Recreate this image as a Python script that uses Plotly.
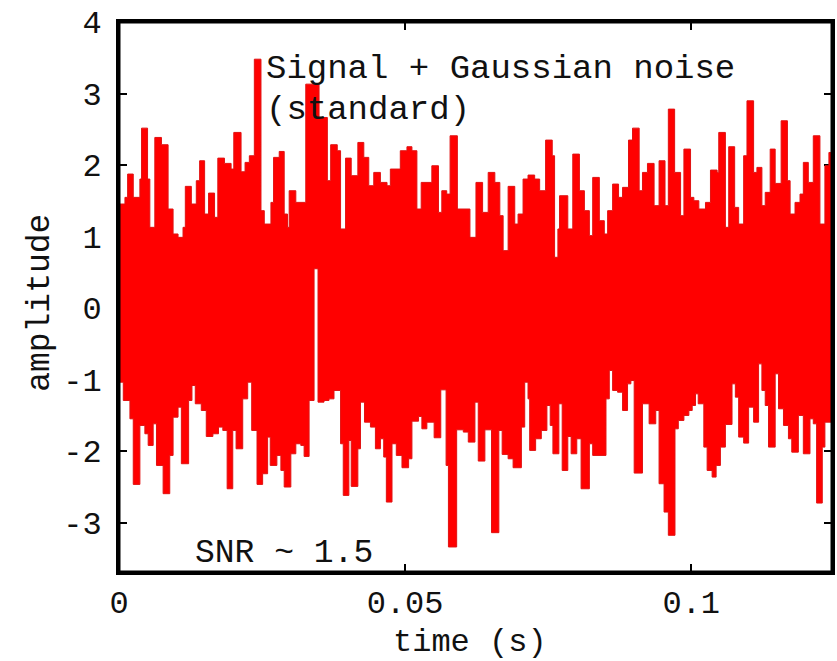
import plotly.graph_objects as go

# ---- data ----
t_end = 0.1246

upper_t = [0, 0.00104, 0.00151, 0.00249, 0.00365, 0.00394, 0.00499, 0.00539, 0.00626, 0.00742,
           0.00858, 0.00945, 0.01032, 0.01119, 0.01159, 0.01264, 0.01351, 0.01409, 0.01496, 0.01565,
           0.01670, 0.01727, 0.01843, 0.01959, 0.02006, 0.02133, 0.02203, 0.02278, 0.02365, 0.02481,
           0.02539, 0.02655, 0.02701, 0.02800, 0.02887, 0.02945, 0.02974, 0.03090, 0.03264, 0.03496,
           0.03641, 0.03699, 0.03814, 0.03872, 0.03959, 0.04058,
           0.04174, 0.04278, 0.04365, 0.04452, 0.04568, 0.04684, 0.04742, 0.04916, 0.05032, 0.05119,
           0.05206, 0.05281, 0.05467, 0.05583, 0.05641, 0.05727, 0.05786, 0.05913, 0.06133, 0.06238,
           0.06354, 0.06452, 0.06568, 0.06655, 0.06713, 0.06800, 0.06916, 0.06974, 0.07061, 0.07148,
           0.07264, 0.07351, 0.07455, 0.07571, 0.07612, 0.07670, 0.07699, 0.07843, 0.07930, 0.08046,
           0.08133, 0.08220, 0.08278,
           0.08394, 0.08481, 0.08539, 0.08626, 0.08730, 0.08800, 0.08904, 0.08974, 0.09090, 0.09148,
           0.09235, 0.09351, 0.09438, 0.09542, 0.09600, 0.09710, 0.09814, 0.09872, 0.09988, 0.10046,
           0.10133, 0.10249, 0.10336, 0.10452, 0.10481, 0.10597, 0.10655, 0.10759, 0.10829, 0.10916,
           0.10974, 0.11090, 0.11148, 0.11235, 0.11293, 0.11380, 0.11467, 0.11571, 0.11681, 0.11728,
           0.11814, 0.11901, 0.11959, 0.12046, 0.12133, 0.12249, 0.12336, 0.12406]
upper_v = [1.455, 1.548, 1.874, 1.548, 1.804, 2.516, 1.804, 1.129, 2.386, 2.284,
           1.385, 1.036, 0.989, 1.129, 1.702, 1.455, 1.781, 2.060, 1.315, 1.608,
           1.269, 2.097, 2.023, 1.944, 2.456, 1.906, 2.037, 2.130, 3.480, 1.362,
           1.175, 1.478, 2.107, 2.190, 1.315, 1.129, 1.641, 1.478, 3.131, 2.665,
           1.781, 2.284, 2.200, 1.106, 2.097, 1.851,
           2.316, 2.107, 1.711, 1.897, 1.757, 1.711, 1.944, 2.200, 2.256, 2.200,
           1.385, 1.757, 1.990, 1.338, 1.641, 1.594, 2.409, 1.385, 0.989, 1.757,
           1.338, 1.897, 1.757, 1.292, 0.803, 1.702, 1.175, 1.315, 1.804, 1.860,
           1.804, 1.641, 2.349, 2.130, 0.710, 1.106, 1.571, 1.106, 2.153, 1.641,
           1.362, 1.013, 1.827,
           1.222, 1.036, 1.362, 1.734, 1.548, 1.688, 2.349, 2.516, 1.641, 1.897,
           2.023, 1.432, 2.060, 1.432, 2.782, 1.897, 1.292, 2.223, 1.548, 1.501,
           1.385, 1.478, 1.930, 1.897, 2.456, 1.129, 2.256, 1.408, 1.175, 2.130,
           2.898, 1.897, 1.967, 1.432, 1.618, 2.223, 1.743, 2.619, 1.781, 1.315,
           1.478, 1.594, 2.037, 1.757, 2.409, 1.175, 1.990, 2.176]

lower_t = [0, 0.00075, 0.00191, 0.00249, 0.00365, 0.00452, 0.00510, 0.00597, 0.00655, 0.00771,
           0.00887, 0.00945, 0.01032, 0.01090, 0.01217, 0.01275, 0.01333, 0.01438, 0.01525, 0.01641,
           0.01739, 0.01814, 0.01890, 0.01988, 0.02046, 0.02162, 0.02249, 0.02319, 0.02412, 0.02510,
           0.02597, 0.02643, 0.02759, 0.02829, 0.02887, 0.03003, 0.03090, 0.03177, 0.03235, 0.03322,
           0.03409, 0.03478, 0.03583, 0.03670, 0.03757, 0.03872, 0.03919, 0.04017, 0.04058,
           0.04174, 0.04220, 0.04290, 0.04394, 0.04481, 0.04568, 0.04626, 0.04672, 0.04771, 0.04846,
           0.04945, 0.05061, 0.05119, 0.05235, 0.05293, 0.05380, 0.05507, 0.05623, 0.05716, 0.05757,
           0.05901, 0.06017, 0.06104, 0.06220, 0.06278, 0.06394, 0.06510, 0.06638, 0.06696, 0.06800,
           0.06887, 0.07032, 0.07090, 0.07148, 0.07177, 0.07281, 0.07380, 0.07478, 0.07536, 0.07583,
           0.07687, 0.07745, 0.07843, 0.07901, 0.08000, 0.08075, 0.08220, 0.08278,
           0.08510, 0.08568, 0.08626, 0.08713, 0.08800, 0.08887, 0.08945, 0.09003, 0.09148, 0.09264,
           0.09380, 0.09438, 0.09525, 0.09600, 0.09716, 0.09774, 0.09872, 0.09959, 0.10017, 0.10075,
           0.10122, 0.10220, 0.10278, 0.10365, 0.10435, 0.10510, 0.10597, 0.10713, 0.10771, 0.10829,
           0.10916, 0.11003, 0.11090, 0.11177, 0.11235, 0.11293, 0.11351, 0.11467, 0.11525, 0.11612,
           0.11699, 0.11757, 0.11872, 0.11959, 0.12075, 0.12133, 0.12191, 0.12290, 0.12336]
lower_v = [-1.036, -1.292, -1.548, -2.465, -1.641, -1.757, -1.920, -1.618, -2.200, -2.595,
           -2.060, -1.525, -1.385, -2.176, -1.292, -1.082, -1.338, -1.432, -1.795, -1.757,
           -1.664, -1.711, -2.526, -1.711, -1.967, -1.269, -1.036, -1.711, -2.465, -2.316,
           -1.804, -2.200, -2.060, -2.270, -2.502, -2.037, -1.897, -1.920, -2.074, -1.292,
           0.550, -1.315, -1.292, -1.269, -1.152, -1.897, -2.619, -1.851, -2.493,
           -1.967, -1.315, -1.595, -1.664, -1.967, -1.827, -2.083, -2.712, -1.897, -2.060,
           -2.232, -2.107, -1.581, -1.515, -1.688, -1.595, -1.813, -1.143, -2.200, -3.340,
           -1.702, -1.734, -1.874, -1.315, -2.139, -1.702, -3.140, -1.711, -2.046, -2.107,
           -2.232, -1.664, -1.036, -1.269, -1.990, -1.827, -1.711, -1.362, -1.641, -2.037,
           -1.338, -2.270, -1.795, -2.037, -1.827, -2.526, -1.897, -2.060,
           -1.269, -0.873, -1.152, -1.176, -1.432, -1.059, -1.013, -2.307, -1.338, -1.618,
           -1.432, -2.456, -2.852, -3.177, -1.688, -1.571, -1.501, -1.432, -1.362, -1.199,
           -1.338, -1.944, -2.270, -2.363, -2.200, -1.944, -1.627, -1.059, -1.245, -1.804,
           -1.888, -1.385, -1.595, -0.780, -1.152, -1.362, -1.944, -0.919, -1.408, -1.641,
           -1.827, -2.014, -1.501, -2.037, -1.548, -1.618, -2.726, -1.944, -1.595]

x_ticks = [0, 0.05, 0.1]
x_ticklabels = ["0", "0.05", "0.1"]
y_ticks = [-3, -2, -1, 0, 1, 2, 3, 4]
y_ticklabels = ["-3", "-2", "-1", "0", "1", "2", "3", "4"]

RED = "rgb(255,0,0)"
EDGE = "rgb(225,18,18)"
FONT = "Liberation Mono, DejaVu Sans Mono, monospace"

fig = go.Figure()
fig.add_trace(go.Scatter(x=lower_t + [t_end], y=lower_v + [lower_v[-1]], mode="lines",
                         line=dict(color=EDGE, width=1, shape="hv"), hoverinfo="skip"))
fig.add_trace(go.Scatter(x=upper_t + [t_end], y=upper_v + [upper_v[-1]], mode="lines",
                         line=dict(color=EDGE, width=1, shape="hv"), fill="tonexty",
                         fillcolor=RED, hoverinfo="skip"))

axis_common = dict(showgrid=False, zeroline=False, ticks="inside", ticklen=8, tickwidth=2,
                   tickcolor="black", showline=True, linecolor="black", linewidth=3,
                   mirror="ticks", layer="below traces",
                   tickfont=dict(family=FONT, size=32, color="#111"))
fig.update_xaxes(range=[0, t_end], tickvals=x_ticks, ticktext=x_ticklabels,
                 ticklabelstandoff=0, **axis_common)
fig.update_yaxes(range=[-3.69, 4.0], tickvals=y_ticks, ticktext=y_ticklabels,
                 ticklabelstandoff=8, **axis_common)

fig.add_shape(type="rect", xref="paper", yref="paper", x0=0, x1=1, y0=0, y1=1,
              line=dict(color="black", width=3), layer="above")

txt = dict(family=FONT, size=34, color="#111")
fig.add_annotation(text="Signal + Gaussian noise", xref="paper", yref="paper", x=0.203, y=0.9145,
                   xanchor="left", yanchor="middle", showarrow=False, font=txt)
fig.add_annotation(text="(standard)", xref="paper", yref="paper", x=0.203, y=0.84,
                   xanchor="left", yanchor="middle", showarrow=False, font=txt)
fig.add_annotation(text="SNR ~ 1.5", xref="paper", yref="paper", x=0.1033, y=0.0345,
                   xanchor="left", yanchor="middle", showarrow=False, font=dict(family=FONT, size=33, color="#111"))
fig.add_annotation(text="time (s)", xref="paper", yref="paper", x=0.4927, y=-0.1290,
                   xanchor="center", yanchor="middle", showarrow=False,
                   font=dict(family=FONT, size=32, color="#111"))
fig.add_annotation(text="amplitude", xref="paper", yref="paper", x=-0.1103, y=0.49,
                   xanchor="center", yanchor="middle", textangle=-90, showarrow=False,
                   font=dict(family=FONT, size=33, color="#111"))

fig.update_layout(width=837, height=661, margin=dict(l=119, r=2, t=22, b=89),
                  plot_bgcolor="white", paper_bgcolor="white", showlegend=False)

fig.write_html("out.html")
